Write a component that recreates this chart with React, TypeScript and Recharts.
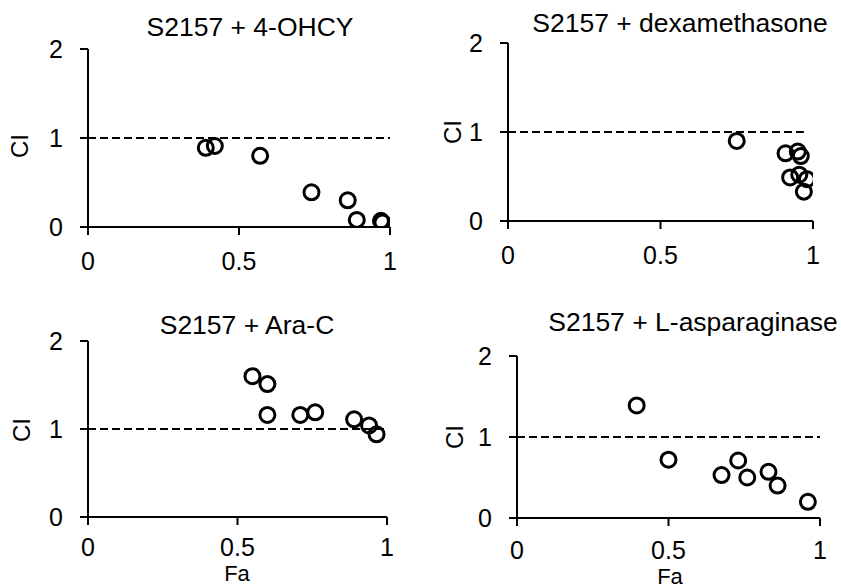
import React from 'react';
import { ScatterChart, Scatter, XAxis, YAxis, ReferenceLine } from 'recharts';

const xTicks = [0, 0.5, 1];
const yTicks = [0, 1, 2];

const ohcyFa = [0.39, 0.42, 0.57, 0.74, 0.86, 0.89, 0.97, 0.975];
const ohcyCI = [0.89, 0.91, 0.80, 0.39, 0.30, 0.08, 0.07, 0.05];

const dexaFa = [0.75, 0.91, 0.95, 0.96, 0.925, 0.955, 0.98, 0.97];
const dexaCI = [0.90, 0.76, 0.78, 0.73, 0.49, 0.52, 0.47, 0.33];

const araFa = [0.55, 0.60, 0.60, 0.71, 0.76, 0.89, 0.94, 0.965];
const araCI = [1.60, 1.51, 1.16, 1.16, 1.19, 1.11, 1.04, 0.94];

const aspFa = [0.395, 0.50, 0.675, 0.73, 0.76, 0.83, 0.86, 0.96];
const aspCI = [1.39, 0.72, 0.53, 0.71, 0.50, 0.57, 0.40, 0.20];

const titles = ['S2157 + 4-OHCY', 'S2157 + dexamethasone', 'S2157 + Ara-C', 'S2157 + L-asparaginase'];

const zip = (xs: number[], ys: number[]) => xs.map((x, i) => ({ x, y: ys[i] }));

const FONT = '"Liberation Sans", Arial, sans-serif';

const Ring = (props: any) => (
  <circle cx={props.cx} cy={props.cy} r={7.5} fill="none" stroke="#000" strokeWidth={3} />
);

type PanelProps = {
  left: number; top: number; width: number; height: number;
  px0: number; px1: number; py0: number; py1: number;
  data: { x: number; y: number }[];
  dashEnd: number; xTickMargin: number;
};

const Panel = (p: PanelProps) => {
  const margin = { top: p.py0 - p.top, right: p.left + p.width - p.px1, bottom: 0, left: 0 };
  const yW = p.px0 - p.left;
  const xH = p.top + p.height - p.py1;
  const axisStyle = { stroke: '#000', strokeWidth: 2 };
  const tickStyle = { fill: '#000', fontSize: 25, fontFamily: FONT };
  return (
    <div style={{ position: 'absolute', left: p.left, top: p.top }}>
      <ScatterChart width={p.width} height={p.height} margin={margin}>
        <XAxis type="number" dataKey="x" domain={[0, 1]} ticks={xTicks} allowDataOverflow
          height={xH} axisLine={axisStyle} tickLine={axisStyle} tickSize={8}
          tickMargin={p.xTickMargin} tick={tickStyle} interval={0} />
        <YAxis type="number" dataKey="y" domain={[0, 2]} ticks={yTicks} allowDataOverflow
          width={yW} axisLine={axisStyle} tickLine={axisStyle} tickSize={8}
          tickMargin={17} tick={tickStyle} interval={0} />
        <ReferenceLine segment={[{ x: 0, y: 1 }, { x: p.dashEnd, y: 1 }]} stroke="#000"
          strokeWidth={2} strokeDasharray="8 4" ifOverflow="visible" />
        <Scatter data={p.data} shape={Ring} isAnimationActive={false} />
      </ScatterChart>
    </div>
  );
};

export default function App() {
  return (
    <div style={{ position: 'absolute', left: 0, top: 0, width: 841, height: 588, background: '#fff', overflow: 'hidden' }}>
      <Panel left={0} top={0} width={420} height={290} px0={88} px1={390} py0={49} py1={227}
        data={zip(ohcyFa, ohcyCI)} dashEnd={1} xTickMargin={17} />
      <Panel left={420} top={0} width={421} height={290} px0={508} px1={813} py0={43} py1={221}
        data={zip(dexaFa, dexaCI)} dashEnd={0.97} xTickMargin={17} />
      <Panel left={0} top={290} width={420} height={298} px0={88} px1={387} py0={341} py1={517}
        data={zip(araFa, araCI)} dashEnd={1} xTickMargin={13} />
      <Panel left={420} top={290} width={421} height={298} px0={517} px1={820} py0={356} py1={518}
        data={zip(aspFa, aspCI)} dashEnd={1} xTickMargin={15} />
      <svg width={841} height={588} style={{ position: 'absolute', left: 0, top: 0, pointerEvents: 'none' }}
        fontFamily={FONT} fill="#000">
        <text x={250} y={36} fontSize={26.5} textAnchor="middle">{titles[0]}</text>
        <text x={680} y={32} fontSize={26.5} textAnchor="middle">{titles[1]}</text>
        <text x={247} y={334} fontSize={26.5} textAnchor="middle">{titles[2]}</text>
        <text x={693} y={331} fontSize={26.5} textAnchor="middle">{titles[3]}</text>
        <text transform="translate(28,146) rotate(-90)" fontSize={24} textAnchor="middle">CI</text>
        <text transform="translate(461,132) rotate(-90)" fontSize={24} textAnchor="middle">CI</text>
        <text transform="translate(30,430) rotate(-90)" fontSize={24} textAnchor="middle">CI</text>
        <text transform="translate(463,437) rotate(-90)" fontSize={24} textAnchor="middle">CI</text>
        <text x={237} y={581} fontSize={22} textAnchor="middle">Fa</text>
        <text x={670} y={584} fontSize={22} textAnchor="middle">Fa</text>
      </svg>
    </div>
  );
}
